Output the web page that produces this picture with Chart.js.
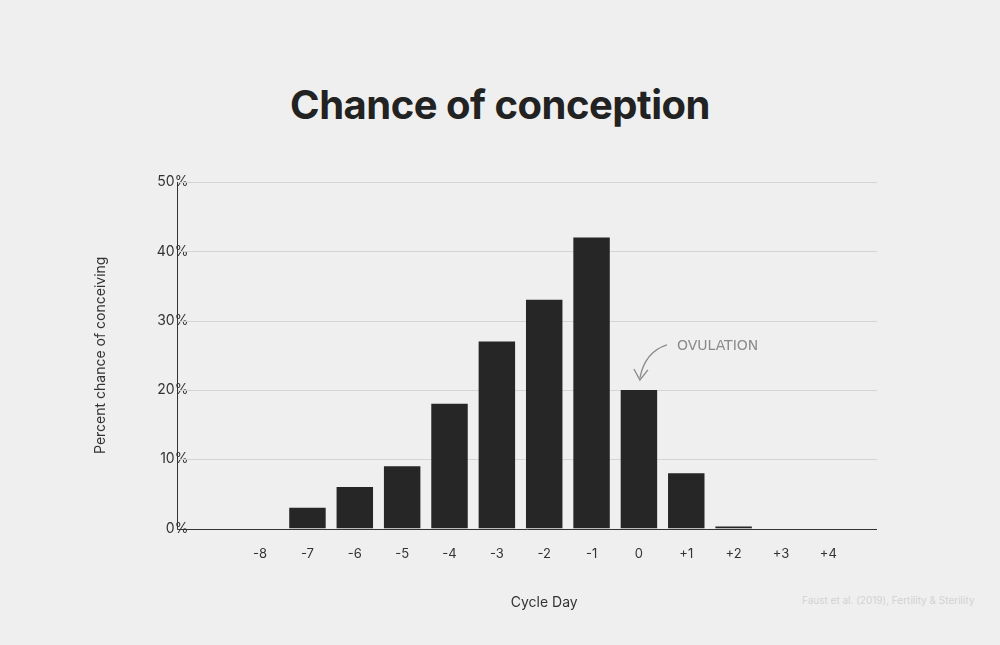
<!DOCTYPE html>
<html><head><script src="https://cdn.jsdelivr.net/npm/chart.js"></script>
<style>html,body{margin:0;background:#efefef;}#w{position:relative;width:1000px;height:645px;}
#t{position:absolute;top:80px;width:1000px;text-align:center;font:700 40px "Inter",sans-serif;color:#222;letter-spacing:-0.5px}
#src{position:absolute;left:802px;top:594px;font:10px "Inter",sans-serif;color:#d2d2d2}
canvas{position:absolute;left:0;top:0}</style></head>
<body><div id="w"><div id="t">Chance of conception</div><div id="src">Faust et al. (2019), Fertility &amp; Sterility</div><canvas id="c" width="1000" height="645"></canvas></div>
<script>
const days=["-8","-7","-6","-5","-4","-3","-2","-1","0","+1","+2","+3","+4"];
const chance=[0,3,6,9,18,27,33,42,20,8,0.3,0,0];
const yTicks=[0,10,20,30,40,50];
const frame={id:'frame',beforeDatasetsDraw(ch){const y=ch.scales.y,c=ch.ctx,L=177,R=877;
 c.save();c.strokeStyle='#d4d4d4';c.lineWidth=1;
 yTicks.slice(1).forEach(v=>{const p=Math.round(y.getPixelForValue(v))+0.5;c.beginPath();c.moveTo(L,p);c.lineTo(R,p);c.stroke();});
 c.strokeStyle='#333';const b=Math.round(y.getPixelForValue(0))+0.5,t=y.getPixelForValue(50);
 c.beginPath();c.moveTo(L+0.5,t);c.lineTo(L+0.5,b);c.lineTo(R,b);c.stroke();c.restore();}};
const annot={id:'annot',afterDatasetsDraw(ch){const x=ch.scales.x,y=ch.scales.y,c=ch.ctx;
 const px=x.getPixelForValue(8),py=y.getPixelForValue(20);
 c.save();c.strokeStyle='#8a8a8a';c.lineWidth=1.3;c.beginPath();
 c.moveTo(px+28,py-45);c.quadraticCurveTo(px+6,py-38,px+1,py-12);c.stroke();
 c.beginPath();c.moveTo(px-5,py-21);c.lineTo(px+1,py-10);c.lineTo(px+9,py-20);c.stroke();
 c.fillStyle='#8a8a8a';c.font='14px "DejaVu Sans",sans-serif';c.fillText('OVULATION',px+38,py-40);c.restore();}};
new Chart(document.getElementById('c'),{type:'bar',
 data:{labels:days,datasets:[{data:chance,backgroundColor:'#262626',barPercentage:0.77,categoryPercentage:1}]},
 options:{responsive:false,animation:false,layout:{padding:{left:88,right:148,top:182,bottom:30}},
 plugins:{legend:{display:false},tooltip:{enabled:false}},
 scales:{x:{grid:{display:false},border:{display:false},ticks:{color:'#333',font:{size:13,family:'Inter'},padding:10},
   title:{display:true,text:'Cycle Day',color:'#333',font:{size:14,family:'Inter'},padding:{top:22}}},
  y:{min:0,max:50,afterBuildTicks:s=>{s.ticks=yTicks.map(v=>({value:v}));},ticks:{callback:v=>v+'%',color:'#333',font:{size:14,family:'Inter'},padding:40},
   grid:{display:false},border:{display:false},
   title:{display:true,text:'Percent chance of conceiving',color:'#333',font:{size:14,family:'Inter'},padding:{bottom:8}}}}},
 plugins:[frame,annot]});
</script></body></html>
